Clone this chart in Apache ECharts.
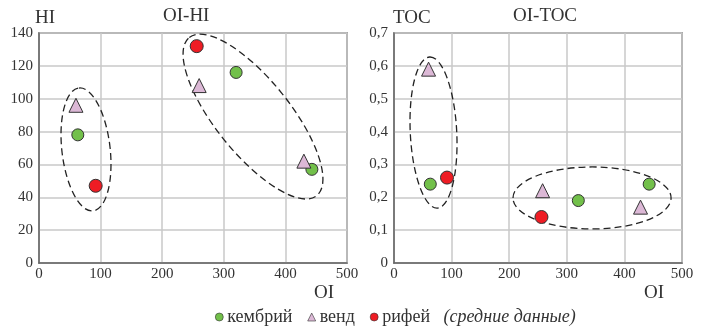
<!DOCTYPE html>
<html><head><meta charset="utf-8">
<script src="https://cdn.jsdelivr.net/npm/echarts@6/dist/echarts.min.js"></script>
<style>html,body{margin:0;padding:0;background:#fff}#c{width:707px;height:334px}</style>
</head><body><div id="c"></div>
<script>
// OI-HI chart data [OI, HI]
const hiCambrian = [[63, 78], [320, 116], [443, 57]];
const hiVendian  = [[60, 96], [260, 108], [430, 62]];
const hiRiphean  = [[92, 47], [256, 132]];
// OI-TOC chart data [OI, TOC]
const tocCambrian = [[63, 0.24], [320, 0.19], [443, 0.24]];
const tocVendian  = [[60, 0.59], [258, 0.22], [428, 0.17]];
const tocRiphean  = [[92, 0.26], [256, 0.14]];
// Dashed group ellipses: major-axis endpoints in data units [x1, y1, x2, y2, minor/major ratio]
const hiEllipses  = [[64.8, 106.5, 87.8, 31.7, 0.39], [244, 137.3, 450.8, 41.0, 0.365]];
const tocEllipses = [[62, 0.627, 75.2, 0.167, 0.307], [206.6, 0.198, 481, 0.198, 0.392]];
// Ticks
const oiTicks = [0, 100, 200, 300, 400, 500];
const hiTicks = [0, 20, 40, 60, 80, 100, 120, 140];
const tocTicks = [0, 0.1, 0.2, 0.3, 0.4, 0.5, 0.6, 0.7];

const FONT = '"Liberation Serif", "DejaVu Serif", serif';
const green = '#72c04a', pink = '#dcb8d6', red = '#ee1c24';

const chart = echarts.init(document.getElementById('c'), null, {renderer: 'canvas'});

function xAxis(gi) {
  return {
    gridIndex: gi, type: 'value', min: 0, max: 500, interval: 100,
    axisLine: {show: true, lineStyle: {color: '#666', width: 1.5}},
    axisTick: {show: false},
    splitLine: {show: true, lineStyle: {color: '#c8c8c8', width: 1.5}},
    axisLabel: {color: '#333', fontFamily: FONT, fontSize: 15, margin: 4,
      formatter: v => String(v)}
  };
}
function yAxis(gi, max, interval, fmt) {
  return {
    gridIndex: gi, type: 'value', min: 0, max: max, interval: interval,
    axisLine: {show: true, lineStyle: {color: '#666', width: 1.5}},
    axisTick: {show: false},
    splitLine: {show: true, lineStyle: {color: '#c8c8c8', width: 1.5}},
    axisLabel: {color: '#333', fontFamily: FONT, fontSize: 15, margin: 6, formatter: fmt}
  };
}

function ellipseSeries(gi, data) {
  return {
    type: 'custom', xAxisIndex: gi, yAxisIndex: gi, silent: true, z: 5,
    data: data,
    renderItem: function (params, api) {
      const p1 = api.coord([api.value(0), api.value(1)]);
      const p2 = api.coord([api.value(2), api.value(3)]);
      const cx = (p1[0] + p2[0]) / 2, cy = (p1[1] + p2[1]) / 2;
      const dx = p2[0] - p1[0], dy = p2[1] - p1[1];
      const a = Math.sqrt(dx * dx + dy * dy) / 2;
      const b = a * api.value(4);
      const ang = Math.atan2(dy, dx);
      return {
        type: 'group', x: cx, y: cy, rotation: -ang,
        children: [{
          type: 'ellipse', shape: {cx: 0, cy: 0, rx: a, ry: b},
          style: {fill: null, stroke: '#222', lineWidth: 1.3, lineDash: [7, 4]}
        }]
      };
    },
    encode: {x: [0, 2], y: [1, 3]}
  };
}

function pts(name, gi, data, symbol, color, size) {
  return {
    name: name, type: 'scatter', xAxisIndex: gi, yAxisIndex: gi, z: 10,
    data: data, symbol: symbol, symbolSize: size,
    itemStyle: {color: color, borderColor: '#333', borderWidth: 1, opacity: 1}
  };
}

const option = {
  animation: false,
  backgroundColor: '#fff',
  grid: [
    {left: 39, right: 360, top: 33, bottom: 71, show: true, borderColor: '#666', borderWidth: 1.5},
    {left: 394, right: 25, top: 33, bottom: 71, show: true, borderColor: '#666', borderWidth: 1.5}
  ],
  xAxis: [xAxis(0), xAxis(1)],
  yAxis: [
    yAxis(0, 140, 20, v => String(v)),
    yAxis(1, 0.7, 0.1, v => (Math.round(v * 10) / 10).toString().replace('.', ','))
  ],
  legend: {
    bottom: 3, left: 210, itemWidth: 8, itemHeight: 8, itemGap: 15,
    itemStyle: {borderWidth: 0.6},
    data: [
      {name: 'кембрий', icon: 'circle'},
      {name: 'венд', icon: 'triangle'},
      {name: 'рифей', icon: 'circle'}
    ],
    textStyle: {fontFamily: FONT, fontSize: 18, color: '#333', padding: [0, 0, 0, -1],
      rich: {i: {fontFamily: FONT, fontSize: 18, fontStyle: 'italic', color: '#333'}}},
    formatter: n => n === 'рифей' ? n + '   {i|(средние данные)}' : n
  },
  graphic: [
    {type: 'text', left: 35, top: 9, style: {text: 'HI', font: '19px ' + FONT, fill: '#333'}},
    {type: 'text', left: 163, top: 7, style: {text: 'OI-HI', font: '19px ' + FONT, fill: '#333'}},
    {type: 'text', left: 314, top: 284, style: {text: 'OI', font: '19px ' + FONT, fill: '#333'}},
    {type: 'text', left: 393, top: 9, style: {text: 'TOC', font: '19px ' + FONT, fill: '#333'}},
    {type: 'text', left: 513, top: 7, style: {text: 'OI-TOC', font: '19px ' + FONT, fill: '#333'}},
    {type: 'text', left: 644, top: 284, style: {text: 'OI', font: '19px ' + FONT, fill: '#333'}}
  ],
  series: [
    ellipseSeries(0, hiEllipses),
    ellipseSeries(1, tocEllipses),
    pts('кембрий', 0, hiCambrian, 'circle', green, 12),
    pts('венд', 0, hiVendian, 'triangle', pink, 14),
    pts('рифей', 0, hiRiphean, 'circle', red, 13),
    pts('кембрий', 1, tocCambrian, 'circle', green, 12),
    pts('венд', 1, tocVendian, 'triangle', pink, 14),
    pts('рифей', 1, tocRiphean, 'circle', red, 13)
  ]
};
chart.setOption(option);
</script></body></html>
